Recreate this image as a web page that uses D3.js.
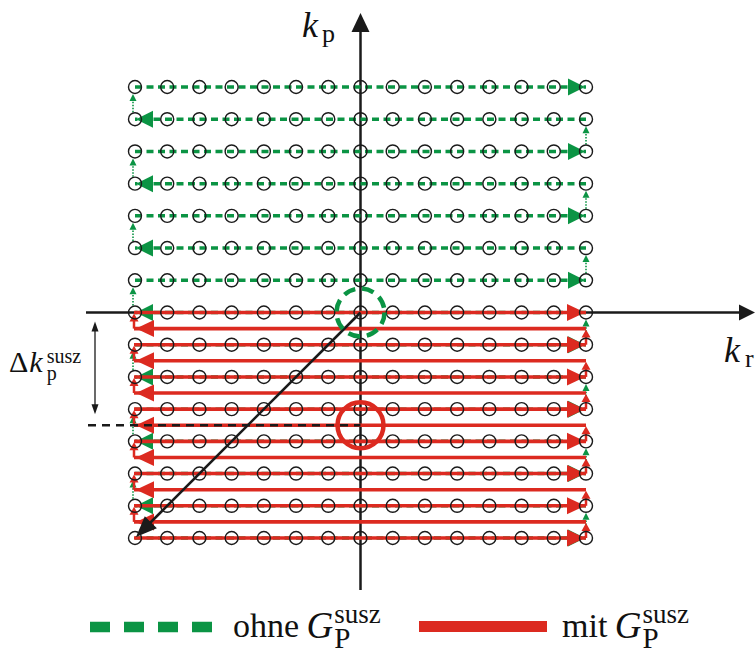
<!DOCTYPE html>
<html>
<head>
<meta charset="utf-8">
<script src="https://cdn.jsdelivr.net/npm/d3@7/dist/d3.min.js"></script>
<style>
  body { margin: 0; background: #fff; }
  svg { display: block; }
</style>
</head>
<body>
<script>
// k-space grid positions (sample indices)
const KR = [-7, -6, -5, -4, -3, -2, -1, 0, 1, 2, 3, 4, 5, 6, 7];
const KP = [-7, -6, -5, -4, -3, -2, -1, 0, 1, 2, 3, 4, 5, 6, 7];

// readout lines without correction (green), bottom to top
const GREEN_ROWS = [-7, -6, -5, -4, -3, -2, -1, 0, 1, 2, 3, 4, 5, 6, 7];
const GREEN_DIR  = [ 1, -1,  1, -1,  1, -1,  1, -1, 1, -1, 1, -1, 1, -1, 1];

// readout lines with susceptibility gradient (red), half-step in kp
const RED_ROWS = [-7, -6.5, -6, -5.5, -5, -4.5, -4, -3.5, -3, -2.5, -2, -1.5, -1, -0.5, 0];
const RED_DIR  = [ 1,   -1,  1,   -1,  1,   -1,  1,   -1,  1,   -1,  1,   -1,  1,   -1, 1];

// k-space centre without / with gradient
const CENTER_OHNE = [0, 0];
const CENTER_MIT = [0, -3.5];

const LEGEND_LABELS = ['ohne', 'mit'];
const SUPER = 'susz';
const SUB = 'P';

const GREEN = '#0b9444';
const RED = '#dc2a20';
const BLACK = '#1a1a1a';
const SERIF = "'Liberation Serif', 'Times New Roman', Times, 'DejaVu Serif', serif";

const width = 755;
const height = 653;

const svg = d3.select('body').append('svg')
    .attr('width', width)
    .attr('height', height);

const x = d3.scaleLinear().domain([-7, 7]).range([135, 586]);
const y = d3.scaleLinear().domain([-7, 7]).range([538, 87]);

// triangle with tip at (tx,ty) pointing along (dx,dy)
function tri(g, tx, ty, dx, dy, len, half, color) {
    const bx = tx - dx * len, by = ty - dy * len;
    const px = -dy * half, py = dx * half;
    g.append('path')
        .attr('d', `M${tx},${ty}L${bx + px},${by + py}L${bx - px},${by - py}Z`)
        .attr('fill', color);
}

// axes
const axes = svg.append('g');
axes.append('line')
    .attr('x1', x(0)).attr('x2', x(0))
    .attr('y1', 590).attr('y2', 30)
    .attr('stroke', BLACK).attr('stroke-width', 2.5);
tri(axes, x(0), 13, 0, -1, 19, 9, BLACK);
axes.append('line')
    .attr('x1', 86).attr('x2', 742)
    .attr('y1', y(0)).attr('y2', y(0))
    .attr('stroke', BLACK).attr('stroke-width', 2.5);
tri(axes, 755, y(0), 1, 0, 16, 8, BLACK);

// green trajectory
const green = svg.append('g');
GREEN_ROWS.forEach((kp, i) => {
    const d = GREEN_DIR[i];
    green.append('line')
        .attr('x1', d > 0 ? x(-7) : x(7)).attr('x2', d > 0 ? x(7) : x(-7))
        .attr('y1', y(kp)).attr('y2', y(kp))
        .attr('stroke', GREEN).attr('stroke-width', 3.5)
        .attr('stroke-dasharray', '7,4.5');
    tri(green, d > 0 ? x(7) - 1 : x(-7) + 1, y(kp), d, 0, 17, 8.5, GREEN);
    if (i < GREEN_ROWS.length - 1) {
        const xv = d > 0 ? x(7) : x(-7) - 2;
        const top = y(GREEN_ROWS[i + 1]) + 7;
        green.append('line')
            .attr('x1', xv).attr('x2', xv)
            .attr('y1', y(kp) - 7).attr('y2', top + 4)
            .attr('stroke', GREEN).attr('stroke-width', 1.6)
            .attr('stroke-dasharray', '1.5,1.5');
        tri(green, xv, top, 0, -1, 7, 3.5, GREEN);
    }
});

// red trajectory
const red = svg.append('g');
RED_ROWS.forEach((kp, i) => {
    const d = RED_DIR[i];
    red.append('line')
        .attr('x1', x(-7) - 1).attr('x2', x(7))
        .attr('y1', y(kp)).attr('y2', y(kp))
        .attr('stroke', RED).attr('stroke-width', 3.6);
    tri(red, d > 0 ? x(7) - 1 : x(-7) + 1, y(kp), d, 0, 18, 8.5, RED);
    if (i < RED_ROWS.length - 1) {
        const xv = d > 0 ? x(7) : x(-7) - 1;
        const top = y(RED_ROWS[i + 1]) + 1;
        red.append('line')
            .attr('x1', xv).attr('x2', xv)
            .attr('y1', y(kp)).attr('y2', top + 5)
            .attr('stroke', RED).attr('stroke-width', 2.5);
        tri(red, xv, top, 0, -1, 8, 4.5, RED);
    }
});

// sample grid
svg.append('g')
    .selectAll('circle')
    .data(d3.cross(KR, KP))
    .join('circle')
        .attr('cx', d => x(d[0]))
        .attr('cy', d => y(d[1]))
        .attr('r', 6.5)
        .attr('fill', 'none')
        .attr('stroke', BLACK)
        .attr('stroke-width', 1.4);

// shifted echo: diagonal arrow and dashed level
const over = svg.append('g');
over.append('line')
    .attr('x1', x(CENTER_OHNE[0])).attr('y1', y(CENTER_OHNE[1]))
    .attr('x2', x(-7) + 14).attr('y2', y(-7) - 14)
    .attr('stroke', BLACK).attr('stroke-width', 2.6);
tri(over, x(-7) + 1, y(-7) - 1, -Math.SQRT1_2, Math.SQRT1_2, 21, 8.5, BLACK);

over.append('line')
    .attr('x1', 88).attr('x2', x(CENTER_MIT[0]))
    .attr('y1', y(CENTER_MIT[1])).attr('y2', y(CENTER_MIT[1]))
    .attr('stroke', BLACK).attr('stroke-width', 2.6)
    .attr('stroke-dasharray', '8,6');

over.append('circle')
    .attr('cx', x(CENTER_OHNE[0])).attr('cy', y(CENTER_OHNE[1]))
    .attr('r', 24)
    .attr('fill', 'none')
    .attr('stroke', GREEN).attr('stroke-width', 4.5)
    .attr('stroke-dasharray', '12,7');

over.append('circle')
    .attr('cx', x(CENTER_MIT[0])).attr('cy', y(CENTER_MIT[1]))
    .attr('r', 23)
    .attr('fill', 'none')
    .attr('stroke', RED).attr('stroke-width', 4.5);

// delta k_p marker
const dx0 = 95;
over.append('line')
    .attr('x1', dx0).attr('x2', dx0)
    .attr('y1', y(CENTER_OHNE[1]) + 14).attr('y2', y(CENTER_MIT[1]) - 16)
    .attr('stroke', BLACK).attr('stroke-width', 1.3);
tri(over, dx0, y(CENTER_OHNE[1]) + 9, 0, -1, 10, 3.5, BLACK);
tri(over, dx0, y(CENTER_MIT[1]) - 11, 0, 1, 10, 3.5, BLACK);

// labels: one text element per math label, parts as tspans
const lab = svg.append('g');
// parts: [text, size, italic, baselineOffset, extra dx, stackUnderPrevious]
function mathLabel(px, py, parts) {
    const t = lab.append('text')
        .attr('x', px).attr('y', py)
        .attr('font-family', SERIF)
        .attr('fill', '#111');
    let prevW = 0, curDy = 0;
    parts.forEach(([s, size, italic, off, gap, stack]) => {
        const sp = t.append('tspan')
            .attr('font-size', size)
            .attr('font-style', italic ? 'italic' : 'normal')
            .attr('dy', off - curDy)
            .text(s);
        sp.attr('dx', (gap || 0) - (stack ? prevW : 0));
        curDy = off;
        prevW = sp.node().getComputedTextLength();
    });
    return t;
}

mathLabel(302, 37, [['k', 36, true, 0], ['p', 26, false, 5, 4]]);
mathLabel(724, 362, [['k', 36, true, 0], ['r', 26, false, 5, 5]]);
mathLabel(9, 372, [['\u0394', 30, false, 0], ['k', 30, true, 0, 1],
    [SUPER, 20, false, -9, 4], [SUB.toLowerCase(), 20, false, 8, 0, true]]);

// legend
const leg = svg.append('g');
leg.append('line')
    .attr('x1', 90).attr('x2', 214)
    .attr('y1', 627).attr('y2', 627)
    .attr('stroke', GREEN).attr('stroke-width', 10.5)
    .attr('stroke-dasharray', '20,14');
leg.append('line')
    .attr('x1', 419).attr('x2', 547)
    .attr('y1', 626.5).attr('y2', 626.5)
    .attr('stroke', RED).attr('stroke-width', 11);

[[LEGEND_LABELS[0], 233], [LEGEND_LABELS[1], 562]].forEach(([t, tx]) => {
    mathLabel(tx, 637, [[t + ' ', 34, false, 0], ['G', 37, true, 1, -1],
        [SUPER, 27, false, -14, 1], [SUB, 29, false, 11, 0, true]]);
});
</script>
</body>
</html>
